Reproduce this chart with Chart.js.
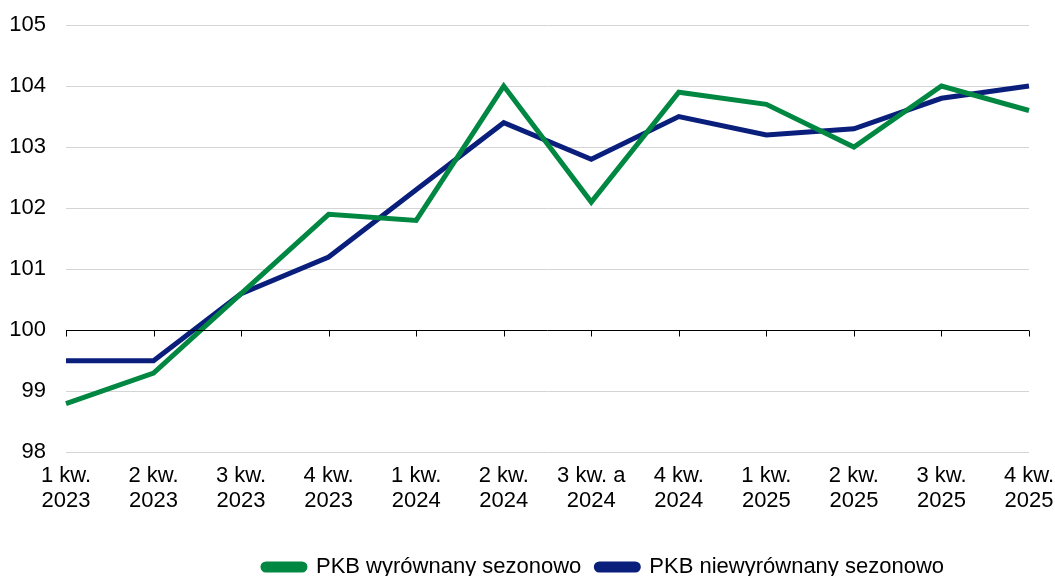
<!DOCTYPE html>
<html>
<head>
<meta charset="utf-8">
<script src="https://cdn.jsdelivr.net/npm/chart.js@4"></script>
<style>
    html, body { margin: 0; padding: 0; background: #fff; }
    #wrap { width: 1055px; height: 576px; }
</style>
</head>
<body>
<div id="wrap"><canvas id="gdpChart"></canvas></div>
<script>
const quarters = [
    ['1 kw.', '2023'], ['2 kw.', '2023'], ['3 kw.', '2023'], ['4 kw.', '2023'],
    ['1 kw.', '2024'], ['2 kw.', '2024'], ['3 kw. a', '2024'], ['4 kw.', '2024'],
    ['1 kw.', '2025'], ['2 kw.', '2025'], ['3 kw.', '2025'], ['4 kw.', '2025']
];
const seasonallyAdjusted = [98.8, 99.3, 100.6, 101.9, 101.8, 104.0, 102.1, 103.9, 103.7, 103.0, 104.0, 103.6];
const notAdjusted = [99.5, 99.5, 100.6, 101.2, 102.3, 103.4, 102.8, 103.5, 103.2, 103.3, 103.8, 104.0];
const yMin = 98;
const yMax = 105;
const baseLine = 100;

// black axis line at 100 with small tick marks under each quarter
const baseLinePlugin = {
    id: 'baseLine',
    afterDatasetsDraw(chart) {
        const { ctx, chartArea, scales } = chart;
        const y = Math.round(scales.y.getPixelForValue(baseLine)) + 0.5;
        ctx.save();
        ctx.strokeStyle = '#000';
        ctx.lineWidth = 1;
        ctx.beginPath();
        ctx.moveTo(chartArea.left, y);
        ctx.lineTo(chartArea.right, y);
        for (let i = 0; i < quarters.length; i++) {
            const x = Math.round(scales.x.getPixelForTick(i)) + 0.5;
            ctx.moveTo(x, y);
            ctx.lineTo(x, y + 6);
        }
        ctx.stroke();
        ctx.restore();
    }
};

// legend in the original sits right of centre, nudge it over
const legendShift = {
    id: 'legendShift',
    afterLayout(chart) {
        const lg = chart.legend;
        lg.left += 89;
        lg.right += 89;
        lg.top += 24;
        lg.bottom += 24;
    }
};

document.addEventListener('DOMContentLoaded', function () {
    const ctx = document.getElementById('gdpChart').getContext('2d');
    Chart.defaults.font.family = '"Liberation Sans", Arial, sans-serif';
    Chart.defaults.color = '#000';

    new Chart(ctx, {
        type: 'line',
        data: {
            labels: quarters,
            datasets: [
                {
                    label: 'PKB wyrównany sezonowo',
                    data: seasonallyAdjusted,
                    borderColor: '#008742',
                    backgroundColor: '#008742',
                    borderWidth: 5,
                    pointRadius: 0,
                    tension: 0
                },
                {
                    label: 'PKB niewyrównany sezonowo',
                    data: notAdjusted,
                    borderColor: '#0a1f7c',
                    backgroundColor: '#0a1f7c',
                    borderWidth: 5,
                    pointRadius: 0,
                    tension: 0
                }
            ]
        },
        options: {
            responsive: true,
            maintainAspectRatio: false,
            animation: false,
            layout: {
                padding: { top: 25, right: 26, bottom: 12, left: 0 }
            },
            plugins: {
                legend: {
                    position: 'bottom',
                    labels: {
                        boxWidth: 42,
                        boxHeight: 6,
                        useBorderRadius: true,
                        borderRadius: 3,
                        padding: 15,
                        font: { size: 22 }
                    }
                },
                tooltip: { enabled: false }
            },
            scales: {
                y: {
                    min: yMin,
                    max: yMax,
                    ticks: {
                        stepSize: 1,
                        padding: 20,
                        font: { size: 22 }
                    },
                    grid: {
                        color: (c) => c.tick && c.tick.value === baseLine ? 'rgba(0,0,0,0)' : '#d4d4d4',
                        drawTicks: false
                    },
                    border: { display: false },
                    afterFit(scale) {
                        scale.width = 66;
                        scale.paddingTop = 0;
                        scale.paddingBottom = 0;
                    }
                },
                x: {
                    offset: false,
                    ticks: {
                        maxRotation: 0,
                        autoSkip: false,
                        padding: 3,
                        font: { size: 22, lineHeight: 1.15 }
                    },
                    grid: { display: false },
                    border: { display: false },
                    afterFit(scale) {
                        scale.paddingLeft = 0;
                        scale.paddingRight = 0;
                    }
                }
            }
        },
        plugins: [baseLinePlugin, legendShift]
    });
}
);
</script>
</body>
</html>
